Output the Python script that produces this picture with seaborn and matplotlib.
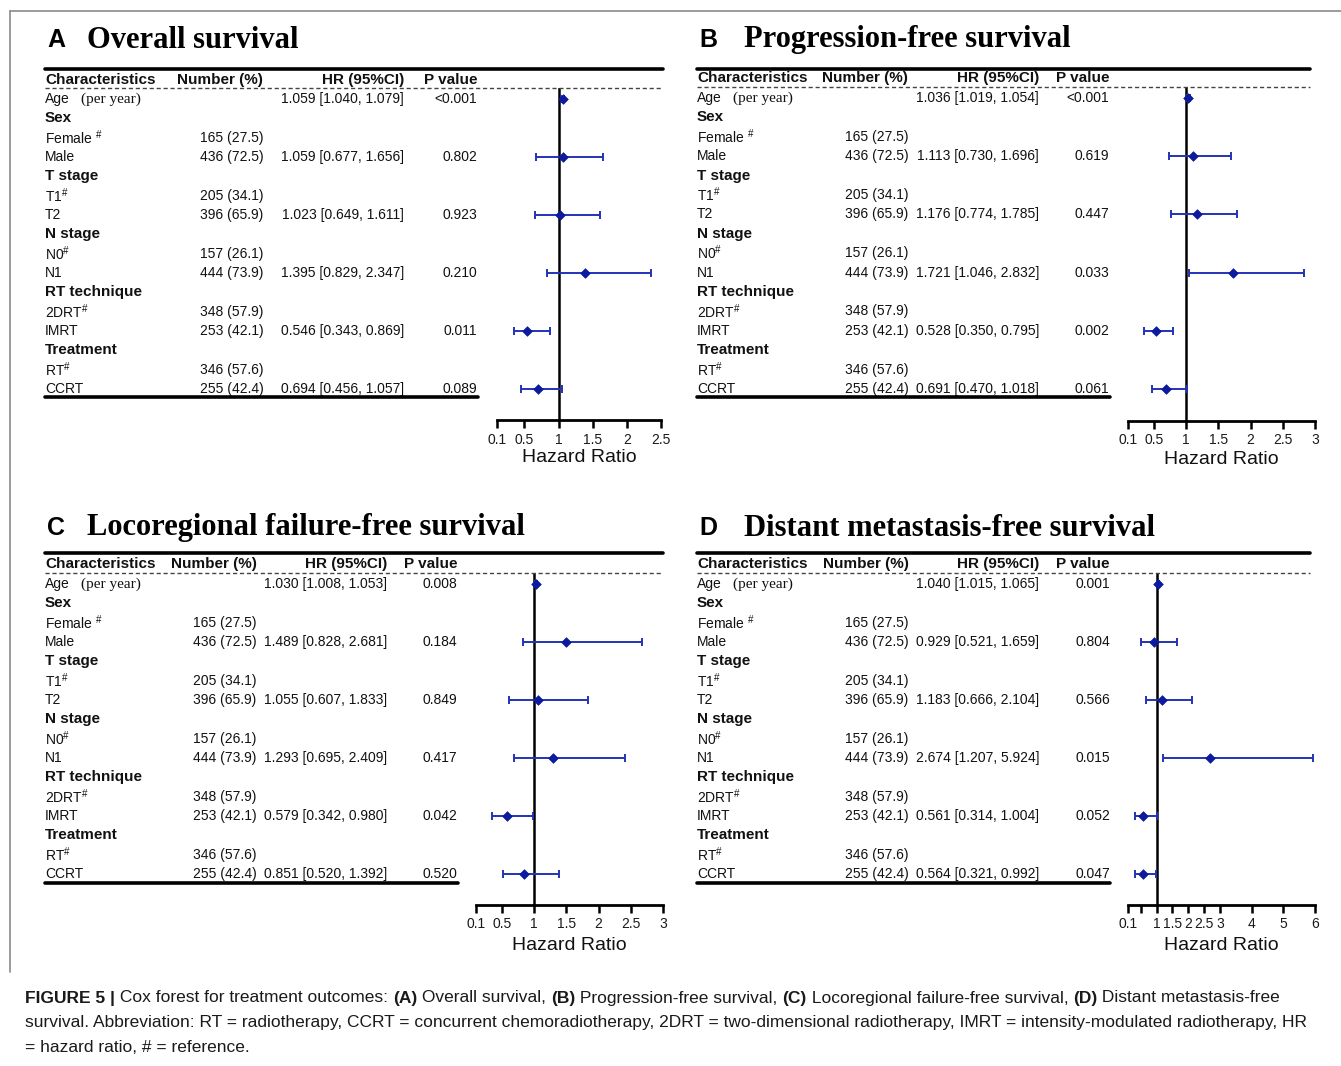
import numpy as np
import pandas as pd
import seaborn as sns
import matplotlib.pyplot as plt
import matplotlib.transforms as mtransforms
from matplotlib.lines import Line2D

# Row labels shared by all four panels
char_labels = ["Age", "Sex", "Female", "Male", "T stage", "T1", "T2", "N stage", "N0", "N1",
               "RT technique", "2DRT", "IMRT", "Treatment", "RT", "CCRT"]
group_labels = ["Sex", "T stage", "N stage", "RT technique", "Treatment"]
ref_labels = ["Female", "T1", "N0", "2DRT", "RT"]
number_labels = ["", "", "165 (27.5)", "436 (72.5)", "", "205 (34.1)", "396 (65.9)", "",
                 "157 (26.1)", "444 (73.9)", "", "348 (57.9)", "253 (42.1)", "", "346 (57.6)", "255 (42.4)"]
est_labels = ["Age", "Male", "T2", "N1", "IMRT", "CCRT"]

# A - Overall survival
os_hr = [1.059, 1.059, 1.023, 1.395, 0.546, 0.694]
os_lo = [1.040, 0.677, 0.649, 0.829, 0.343, 0.456]
os_hi = [1.079, 1.656, 1.611, 2.347, 0.869, 1.057]
os_p = ["<0.001", "0.802", "0.923", "0.210", "0.011", "0.089"]

# B - Progression-free survival
pfs_hr = [1.036, 1.113, 1.176, 1.721, 0.528, 0.691]
pfs_lo = [1.019, 0.730, 0.774, 1.046, 0.350, 0.470]
pfs_hi = [1.054, 1.696, 1.785, 2.832, 0.795, 1.018]
pfs_p = ["<0.001", "0.619", "0.447", "0.033", "0.002", "0.061"]

# C - Locoregional failure-free survival
lrfs_hr = [1.030, 1.489, 1.055, 1.293, 0.579, 0.851]
lrfs_lo = [1.008, 0.828, 0.607, 0.695, 0.342, 0.520]
lrfs_hi = [1.053, 2.681, 1.833, 2.409, 0.980, 1.392]
lrfs_p = ["0.008", "0.184", "0.849", "0.417", "0.042", "0.520"]

# D - Distant metastasis-free survival
dmfs_hr = [1.040, 0.929, 1.183, 2.674, 0.561, 0.564]
dmfs_lo = [1.015, 0.521, 0.666, 1.207, 0.314, 0.321]
dmfs_hi = [1.065, 1.659, 2.104, 5.924, 1.004, 0.992]
dmfs_p = ["0.001", "0.804", "0.566", "0.015", "0.052", "0.047"]

ticks_3 = [0.1, 0.5, 1, 1.5, 2, 2.5, 3]
ticks_d = [0.1, 0.5, 1, 1.5, 2, 2.5, 3, 4, 5, 6]
tick_labels_d = ["0.1", "", "1", "1.5", "2", "2.5", "3", "4", "5", "6"]

sns.set_style("white")
plt.rcParams['font.family'] = ['Liberation Sans', 'DejaVu Sans']
plt.rcParams['mathtext.fontset'] = 'custom'
plt.rcParams['mathtext.rm'] = 'Liberation Sans'
plt.rcParams['mathtext.it'] = 'Liberation Sans:italic'
plt.rcParams['mathtext.bf'] = 'Liberation Sans:bold'

W, H = 1341, 1066
fig = plt.figure(figsize=(W / 100, H / 100), dpi=100)


def fx(px):
    return px / W


def fy(py):
    return 1 - py / H


def line(x0, x1, y0, y1, lw, ls='-', color='black'):
    fig.add_artist(Line2D([fx(x0), fx(x1)], [fy(y0), fy(y1)], transform=fig.transFigure,
                          lw=lw, ls=ls, color=color))


line_color = "#2233b5"
dot_color = "#0b1a9e"
txt = "#111111"


def draw_panel(letter, title, hr, lo, hi, pvals, lay):
    left = lay['left']
    # titre
    fig.text(fx(left + 2), fy(lay['title_y']), letter, fontsize=18, weight='bold', va='center', color='black')
    fig.text(fx(lay['title_x']), fy(lay['title_y']), title, family='Liberation Serif',
             fontsize=22, weight='bold', va='center', color='black')

    # lignes du tableau
    line(left, lay['right'], lay['top_y'], lay['top_y'], lw=2.6)
    line(left, lay['right'], lay['dash_y'], lay['dash_y'], lw=1, ls=(0, (3, 2)), color='#444444')
    line(left, lay['tab_right'], lay['bot_y'], lay['bot_y'], lw=2.6)

    hy = fy(lay['head_y'])
    fig.text(fx(left), hy, "Characteristics", fontsize=11, weight='bold', va='center', color=txt)
    fig.text(fx(lay['num_head']), hy, "Number (%)", fontsize=11, weight='bold', va='center', color=txt)
    fig.text(fx(lay['hr_right']), hy, "HR (95%CI)", fontsize=11, weight='bold', va='center', ha='right', color=txt)
    fig.text(fx(lay['p_right']), hy, "P value", fontsize=11, weight='bold', va='center', ha='right', color=txt)

    # axe du forest plot
    ax = fig.add_axes([fx(lay['ax_x0']), fy(lay['axis_y']),
                       fx(lay['ax_x1']) - fx(lay['ax_x0']), (lay['axis_y'] - lay['dash_y']) / H])
    step = (lay['row_last'] - lay['row0']) / 15
    ax.set_ylim(15 + (lay['axis_y'] - lay['row_last']) / step, -(lay['row0'] - lay['dash_y']) / step)
    ax.set_xlim(lay['xmin'], lay['xmax'])
    ax.set_facecolor('none')

    tr = mtransforms.blended_transform_factory(fig.transFigure, ax.transData)
    for i, lab in enumerate(char_labels):
        if lab in group_labels:
            ax.text(fx(left), i, lab, transform=tr, fontsize=11, weight='bold', va='center', color=txt)
        elif lab in ref_labels:
            sep = " " if lab == "Female" else ""
            ax.text(fx(left), i, lab + sep + r"$^{\#}$", transform=tr, fontsize=10, va='center', color=txt)
        else:
            ax.text(fx(left), i, lab, transform=tr, fontsize=10, va='center', color=txt)
        if number_labels[i]:
            ax.text(fx(lay['num_x']), i, number_labels[i], transform=tr, fontsize=10, va='center', color=txt)
    ax.text(fx(left + 36), 0, "(per year)", transform=tr, family='Liberation Serif', fontsize=11,
            va='center', color=txt)

    df = pd.DataFrame({'label': est_labels, 'hr': hr, 'lo': lo, 'hi': hi, 'p': pvals})
    df['row'] = [char_labels.index(l) for l in df['label']]
    for _, r in df.iterrows():
        ax.text(fx(lay['hr_right']), r['row'], f"{r['hr']:.3f} [{r['lo']:.3f}, {r['hi']:.3f}]",
                transform=tr, fontsize=10, va='center', ha='right', color=txt)
        ax.text(fx(lay['p_right']), r['row'], r['p'], transform=tr, fontsize=10, va='center', ha='right',
                color=txt)

    ax.axvline(1, color='black', lw=1.8, zorder=1)
    ax.errorbar(df['hr'], df['row'], xerr=[df['hr'] - df['lo'], df['hi'] - df['hr']], fmt='none',
                ecolor=line_color, elinewidth=1.4, capsize=3.2, capthick=1.4, zorder=2, clip_on=False)
    sns.scatterplot(data=df, x='hr', y='row', marker='D', s=24, color=dot_color, edgecolor=dot_color,
                    linewidth=0.5, zorder=3, clip_on=False, ax=ax)

    ax.set_yticks([])
    ax.set_ylabel("")
    for side in ['left', 'right', 'top']:
        ax.spines[side].set_visible(False)
    ax.spines['bottom'].set_linewidth(2)
    ax.spines['bottom'].set_color('black')
    ax.set_xticks(lay['ticks'])
    ax.set_xticklabels(lay['tick_labels'])
    ax.tick_params(axis='x', direction='out', length=6, width=1.8, labelsize=10, pad=3,
                   color='black', labelcolor='#1a1a1a', bottom=True)
    ax.set_xlabel("Hazard Ratio", fontsize=14, color='#111111')
    ax.xaxis.label.set_va('center')
    ax.xaxis.set_label_coords(0.5, -(lay['xlab_y'] - lay['axis_y']) / (lay['axis_y'] - lay['dash_y']))
    return ax


lay_a = dict(left=45, right=663, tab_right=478, title_x=87, title_y=40, top_y=69, head_y=80, dash_y=88,
             row0=99, row_last=389, bot_y=397, num_head=177, num_x=200, hr_right=404, p_right=477,
             ax_x0=497, ax_x1=661, xmin=0.1, xmax=2.5, axis_y=420, xlab_y=458,
             ticks=ticks_3[:-1], tick_labels=[str(t) for t in ticks_3[:-1]])
lay_b = dict(left=697, right=1310, tab_right=1110, title_x=744, title_y=40, top_y=69, head_y=78, dash_y=87,
             row0=98, row_last=389, bot_y=397, num_head=822, num_x=845, hr_right=1039, p_right=1109,
             ax_x0=1128, ax_x1=1315, xmin=0.1, xmax=3, axis_y=421, xlab_y=460,
             ticks=ticks_3, tick_labels=[str(t) for t in ticks_3])
lay_c = dict(left=45, right=663, tab_right=458, title_x=87, title_y=528, top_y=553, head_y=564, dash_y=573,
             row0=584, row_last=874, bot_y=883, num_head=171, num_x=193, hr_right=387, p_right=457,
             ax_x0=476, ax_x1=663, xmin=0.1, xmax=3, axis_y=905, xlab_y=946,
             ticks=ticks_3, tick_labels=[str(t) for t in ticks_3])
lay_d = dict(left=697, right=1310, tab_right=1110, title_x=744, title_y=528, top_y=553, head_y=564, dash_y=573,
             row0=584, row_last=874, bot_y=883, num_head=823, num_x=845, hr_right=1039, p_right=1110,
             ax_x0=1128, ax_x1=1315, xmin=0.1, xmax=6, axis_y=905, xlab_y=946,
             ticks=ticks_d, tick_labels=tick_labels_d)

draw_panel("A", "Overall survival", os_hr, os_lo, os_hi, os_p, lay_a)
draw_panel("B", "Progression-free survival", pfs_hr, pfs_lo, pfs_hi, pfs_p, lay_b)
draw_panel("C", "Locoregional failure-free survival", lrfs_hr, lrfs_lo, lrfs_hi, lrfs_p, lay_c)
draw_panel("D", "Distant metastasis-free survival", dmfs_hr, dmfs_lo, dmfs_hi, dmfs_p, lay_d)

# cadre gris
line(10, W, 11, 11, lw=1.2, color='#8a8a8a')
line(10, 10, 11, 972, lw=1.2, color='#8a8a8a')

# légende de la figure
caption = [
    [("FIGURE 5 |", 'bold'), (" Cox forest for treatment outcomes: ", 'normal'), ("(A)", 'bold'),
     (" Overall survival, ", 'normal'), ("(B)", 'bold'), (" Progression-free survival, ", 'normal'),
     ("(C)", 'bold'), (" Locoregional failure-free survival, ", 'normal'), ("(D)", 'bold'),
     (" Distant metastasis-free", 'normal')],
    [("survival. Abbreviation: RT = radiotherapy, CCRT = concurrent chemoradiotherapy, 2DRT = "
      "two-dimensional radiotherapy, IMRT = intensity-modulated radiotherapy, HR", 'normal')],
    [("= hazard ratio, # = reference.", 'normal')],
]
renderer = fig.canvas.get_renderer()
for k, segs in enumerate(caption):
    x = fx(25)
    for s, w in segs:
        t = fig.text(x, fy(998 + 25 * k), s, fontsize=12.5, weight=w, va='center', color='#1a1a1a')
        bb = t.get_window_extent(renderer)
        x = bb.x1 / W

fig.savefig("out.png", dpi=100)
